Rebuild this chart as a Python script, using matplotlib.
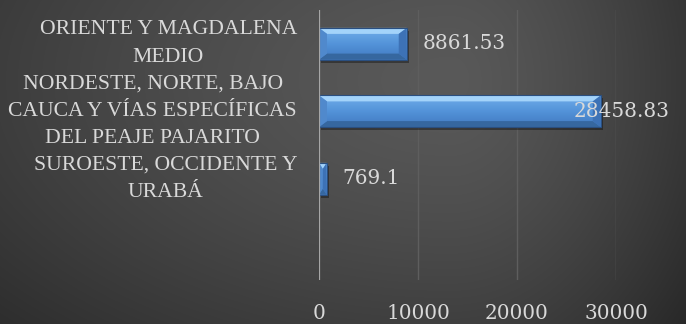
import numpy as np
import matplotlib
matplotlib.use("Agg")
import matplotlib.pyplot as plt
import matplotlib.transforms as mtransforms
from matplotlib.patches import Polygon, Rectangle
from matplotlib.colors import LinearSegmentedColormap

# Data (top to bottom in the chart; last slot is empty)
categories = [
    "ORIENTE Y MAGDALENA\nMEDIO",
    "NORDESTE, NORTE, BAJO\nCAUCA Y VÍAS ESPECÍFICAS\nDEL PEAJE PAJARITO",
    "SUROESTE, OCCIDENTE Y\nURABÁ",
    "",
]
values = [8861.53, 28458.83, 769.1, None]
value_labels = ["8861.53", "28458.83", "769.1", ""]
x_ticks = [0, 10000, 20000, 30000]

W, H, DPI = 686, 324, 100
fig = plt.figure(figsize=(W / DPI, H / DPI), dpi=DPI)

# Dark background with a soft off-centre glow
bg = fig.add_axes([0, 0, 1, 1], zorder=-10)
yy, xx = np.mgrid[0:H, 0:W].astype(float)
cx, cy = 450.0, 80.0
rx = np.where(xx < cx, 600.0, 270.0)
r = np.hypot((xx - cx) / rx, (yy - cy) / 340.0)
v = 89 - 50 * np.clip(r / 1.15, 0, 1) ** 1.4
img = np.dstack([v, v, v]) / 255.0
bg.imshow(img, extent=(0, W, H, 0), aspect="auto", interpolation="bilinear")
bg.set_xlim(0, W)
bg.set_ylim(H, 0)
bg.axis("off")

# Plot area
x0px, x1px, top_px, bot_px = 319, 616, 10, 280
ax = fig.add_axes([x0px / W, (H - bot_px) / H, (x1px - x0px) / W, (bot_px - top_px) / H])
ax.set_facecolor("none")
ax.set_xlim(0, 30000)
n = len(categories)
ax.set_ylim(n - 0.5, -0.5)
for s in ax.spines.values():
    s.set_visible(False)

# Grid and axis line
for t in x_ticks[1:]:
    ax.axvline(t, color="#5e5e5e", lw=1.0, zorder=1)
ax.axvline(0, color="#a6a6a6", lw=1.6, zorder=4)

text_color = "#d9d9d9"
ax.set_xticks(x_ticks)
ax.set_xticklabels([str(t) for t in x_ticks], family="DejaVu Serif", fontsize=14.4, color=text_color)
ax.tick_params(axis="x", length=0, pad=17)
ax.set_yticks(range(n))
ax.set_yticklabels([])
ax.tick_params(axis="y", length=0)

# Category labels: right-aligned block, lines centred within it
label_tr = ax.get_yaxis_transform() + mtransforms.ScaledTranslation(-22 / DPI, 0, fig.dpi_scale_trans)
for i, cat in enumerate(categories):
    if cat:
        ax.text(0, i, cat, transform=label_tr, family="Liberation Serif", fontsize=15.6,
                color=text_color, ha="right", va="center", multialignment="center",
                linespacing=1.62, clip_on=False)

# Pixel-to-data scale for bevel sizes
dx_px = 30000 / (x1px - x0px)
dy_px = n / (bot_px - top_px)

bar_h = 0.47
grad = LinearSegmentedColormap.from_list("bar", ["#4179c0", "#5393d9", "#72aeea"])
for i, val in enumerate(values):
    if val is None:
        continue
    y0, y1 = i + bar_h / 2, i - bar_h / 2  # y0 bottom (screen), y1 top
    # shadow
    ax.add_patch(Rectangle((2 * dx_px, y1 + 3 * dy_px), val, bar_h, color="black",
                           alpha=0.35, lw=0, zorder=2))
    bar = ax.barh(i, val, height=bar_h, color="#4d89cf", lw=0, zorder=3)[0]
    im = ax.imshow(np.linspace(0, 1, 64).reshape(-1, 1), cmap=grad, aspect="auto",
                   extent=(0, val, y0, y1), origin="lower", zorder=3.1)
    im.set_clip_path(bar)
    bw = min(8 * dx_px, val / 2)
    bh = 6 * dy_px
    top = [(0, y1), (val, y1), (val - bw, y1 + bh), (bw, y1 + bh)]
    bottom = [(0, y0), (val, y0), (val - bw, y0 - bh), (bw, y0 - bh)]
    left = [(0, y0), (0, y1), (bw, y1 + bh), (bw, y0 - bh)]
    right = [(val, y0), (val, y1), (val - bw, y1 + bh), (val - bw, y0 - bh)]
    for poly, col in [(top, "#a3d3fa"), (bottom, "#36679f"), (left, "#5089cc"), (right, "#3d72b6")]:
        ax.add_patch(Polygon(poly, closed=True, color=col, lw=0, zorder=3.2))
    ax.add_patch(Rectangle((0, y1), val, bar_h, fill=False, ec="#2a4f80", lw=0.8, zorder=3.3))

# Value labels, kept inside the chart's right edge
fig.canvas.draw()
renderer = fig.canvas.get_renderer()
right_limit_px = 670
for i, (val, lab) in enumerate(zip(values, value_labels)):
    if val is None:
        continue
    t = ax.text(val + 16 * dx_px, i, lab, family="DejaVu Serif", fontsize=14.4,
                color=text_color, va="center", ha="left", zorder=5, clip_on=False)
    bb = t.get_window_extent(renderer)
    if bb.x1 > right_limit_px:
        shift = (bb.x1 - right_limit_px) * dx_px
        t.set_x(val + 16 * dx_px - shift)

fig.savefig("out.png", dpi=DPI)
